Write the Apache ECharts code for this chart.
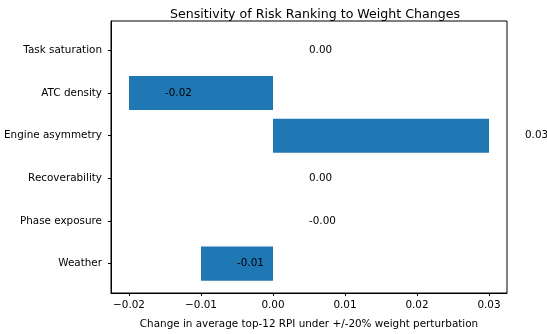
<!DOCTYPE html>
<html>
<head>
<meta charset="utf-8">
<script src="https://cdn.jsdelivr.net/npm/echarts@6/dist/echarts.min.js"></script>
<style>
  html, body { margin: 0; padding: 0; background: #fff; }
  #chart { width: 547px; height: 334px; }
</style>
</head>
<body>
<div id="chart"></div>
<script>
// Risk factors, listed top to bottom
const factors = ['Task saturation', 'ATC density', 'Engine asymmetry', 'Recoverability', 'Phase exposure', 'Weather'];
// Change in average top-12 RPI for each factor
const deltas = [0.0, -0.02, 0.03, 0.0, -0.000001, -0.01];
// X-axis tick positions
const xTicks = [-0.02, -0.01, 0.0, 0.01, 0.02, 0.03];

const FONT = 'DejaVu Sans';
const FS = 10.4;
const BAR_COLOR = '#1f77b4';
const LABEL_SHIFT = 0.005;   // value labels sit this far right of each bar end
const BAR_HEIGHT = 0.8;      // bar thickness in category units

const yTicks = factors.map((_, i) => i);
const rows = deltas.map((v, i) => [v, i]);

const fmtTick = v => {
  const s = Math.abs(v).toFixed(2);
  return (v < -1e-12 ? '\u2212' : '') + s;
};

const chart = echarts.init(document.getElementById('chart'), null, { renderer: 'canvas' });

chart.setOption({
  animation: false,
  backgroundColor: '#fff',
  title: {
    text: 'Sensitivity of Risk Ranking to Weight Changes',
    left: 310, top: 3, textAlign: 'center',
    textStyle: { fontFamily: FONT, fontSize: 12.6, fontWeight: 'normal', color: '#000' }
  },
  grid: {
    left: 111, right: 40, top: 21, bottom: 38,
    show: true, borderColor: '#000', borderWidth: 1, backgroundColor: 'transparent'
  },
  xAxis: {
    type: 'value',
    min: -0.0225, max: 0.0325,
    name: 'Change in average top-12 RPI under +/-20% weight perturbation',
    nameLocation: 'middle', nameGap: 26,
    nameTextStyle: { fontFamily: FONT, fontSize: FS, color: '#000' },
    axisLine: { show: true, onZero: false, lineStyle: { color: '#000', width: 1 } },
    axisTick: { show: true, length: 3, customValues: xTicks, lineStyle: { color: '#000' } },
    axisLabel: {
      customValues: xTicks, formatter: fmtTick, margin: 7,
      fontFamily: FONT, fontSize: FS, color: '#000'
    },
    splitLine: { show: false }
  },
  yAxis: {
    type: 'value',
    min: -0.69, max: 5.69, inverse: true,
    axisLine: { show: true, onZero: false, lineStyle: { color: '#000', width: 1 } },
    axisTick: { show: true, length: 3, customValues: yTicks, lineStyle: { color: '#000' } },
    axisLabel: {
      customValues: yTicks, formatter: v => factors[Math.round(v)], margin: 9,
      fontFamily: FONT, fontSize: FS, color: '#000'
    },
    splitLine: { show: false }
  },
  series: [{
    type: 'custom',
    data: rows,
    encode: { x: 0, y: 1 },
    clip: false,
    renderItem: (params, api) => {
      const v = api.value(0);
      const i = api.value(1);
      const p0 = api.coord([0, i]);
      const p1 = api.coord([v, i]);
      const h = api.size([0, BAR_HEIGHT])[1];
      const pt = api.coord([v + LABEL_SHIFT, i]);
      return {
        type: 'group',
        children: [
          {
            type: 'rect',
            shape: { x: Math.min(p0[0], p1[0]), y: p0[1] - h / 2, width: Math.abs(p1[0] - p0[0]), height: h },
            style: { fill: BAR_COLOR }
          },
          {
            type: 'text',
            x: pt[0], y: pt[1],
            style: {
              text: v.toFixed(2),
              fontFamily: FONT, fontSize: FS, fill: '#000',
              align: 'left', verticalAlign: 'middle'
            }
          }
        ]
      };
    }
  }]
});
</script>
</body>
</html>
